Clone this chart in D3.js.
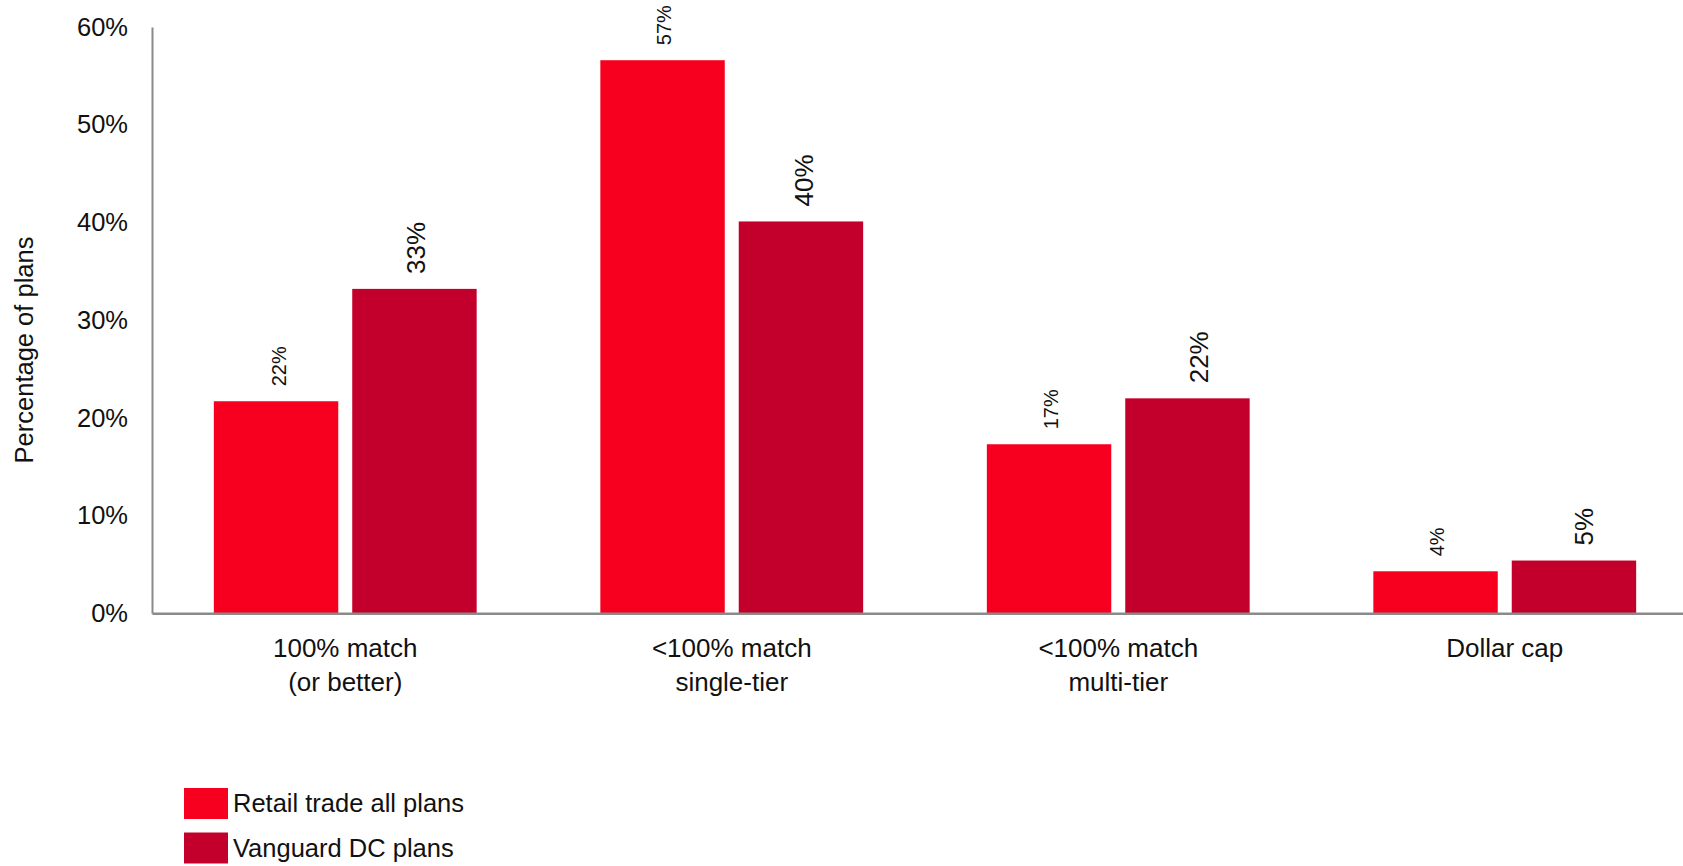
<!DOCTYPE html>
<html>
<head>
<meta charset="utf-8">
<script src="https://cdn.jsdelivr.net/npm/d3@7/dist/d3.min.js"></script>
<style>
  html, body { margin: 0; padding: 0; background: #fff; }
  svg { display: block; font-family: "Liberation Sans", Arial, sans-serif; }
</style>
</head>
<body>
<svg id="chart" width="1683" height="866"></svg>
<script>
// Employer match formula types: share of plans
const categories = ["100% match\n(or better)", "<100% match\nsingle-tier", "<100% match\nmulti-tier", "Dollar cap"];
const seriesNames = ["Retail trade all plans", "Vanguard DC plans"];
const retailValues = [21.7, 56.6, 17.3, 4.3];
const vanguardValues = [33.2, 40.1, 22.0, 5.4];
const yTicks = [0, 10, 20, 30, 40, 50, 60];

const colors = { "Retail trade all plans": "#F70020", "Vanguard DC plans": "#C3002B" };
const labelSize = { "Retail trade all plans": 20, "Vanguard DC plans": 26 };
// horizontal nudge of the value labels, per series and category index
const labelNudge = { "Retail trade all plans": [3, 1, 2, 1], "Vanguard DC plans": [1, 3, 11, 10] };

const svg = d3.select("#chart");
const axisColor = "#8a8a8a";

const x0 = d3.scaleBand().domain(categories).range([152, 1698])
  .paddingInner(0.32).paddingOuter(0.16);
const x1 = d3.scaleBand().domain(seriesNames).range([0, x0.bandwidth()])
  .paddingInner(0.101);
const y = d3.scaleLinear().domain([0, 60]).range([613.3, 27]);

const rows = categories.map((c, i) => ({
  category: c,
  values: [
    { series: seriesNames[0], value: retailValues[i], idx: i },
    { series: seriesNames[1], value: vanguardValues[i], idx: i }
  ]
}));

// Bars
const groups = svg.append("g").selectAll("g").data(rows).join("g")
  .attr("transform", d => `translate(${x0(d.category)},0)`);

groups.selectAll("rect").data(d => d.values).join("rect")
  .attr("x", d => x1(d.series))
  .attr("y", d => y(d.value))
  .attr("width", x1.bandwidth())
  .attr("height", d => y(0) - y(d.value))
  .attr("fill", d => colors[d.series]);

// Value labels, rotated above each bar
groups.selectAll("text").data(d => d.values).join("text")
  .attr("transform", d => `translate(${x1(d.series) + x1.bandwidth() / 2 + labelNudge[d.series][d.idx]},${y(d.value) - 15}) rotate(-90)`)
  .attr("text-anchor", "start")
  .attr("dy", "0.35em")
  .attr("font-size", d => labelSize[d.series])
  .attr("fill", "#111")
  .text(d => Math.round(d.value) + "%");

// Y axis
const yAxis = svg.append("g")
  .attr("transform", "translate(152,0)")
  .call(d3.axisLeft(y).tickValues(yTicks).tickSize(0).tickSizeOuter(0).tickPadding(24)
    .tickFormat(d => d + "%"));
yAxis.select(".domain").attr("stroke", axisColor).attr("stroke-width", 2);
yAxis.selectAll("text").attr("font-size", 25.5).attr("fill", "#111")
  .attr("font-family", "Liberation Sans, Arial, sans-serif");

// X axis
const xAxis = svg.append("g")
  .attr("transform", "translate(0,613.3)")
  .call(d3.axisBottom(x0).tickSize(0).tickSizeOuter(0).tickFormat(""));
xAxis.select(".domain").attr("stroke", axisColor).attr("stroke-width", 2.5);

xAxis.selectAll(".tick").append("text")
  .attr("fill", "#111")
  .attr("font-size", 26)
  .attr("font-family", "Liberation Sans, Arial, sans-serif")
  .attr("text-anchor", "middle")
  .each(function(d) {
    const lines = d.split("\n");
    d3.select(this).selectAll("tspan").data(lines).join("tspan")
      .attr("x", 0)
      .attr("y", (l, i) => 35 + i * 33.5)
      .attr("dy", "0.35em")
      .text(l => l);
  });

// Y axis title
svg.append("text")
  .attr("transform", "translate(24,350) rotate(-90)")
  .attr("text-anchor", "middle")
  .attr("dy", "0.35em")
  .attr("font-size", 25.5)
  .attr("fill", "#111")
  .text("Percentage of plans");

// Legend
const legend = svg.append("g").selectAll("g").data(seriesNames).join("g")
  .attr("transform", (d, i) => `translate(184,${788 + i * 44.5})`);
legend.append("rect")
  .attr("width", 44).attr("height", 31)
  .attr("fill", d => colors[d]);
legend.append("text")
  .attr("x", 49).attr("y", 15.5).attr("dy", "0.35em")
  .attr("font-size", 25.5).attr("fill", "#111")
  .text(d => d);
</script>
</body>
</html>
